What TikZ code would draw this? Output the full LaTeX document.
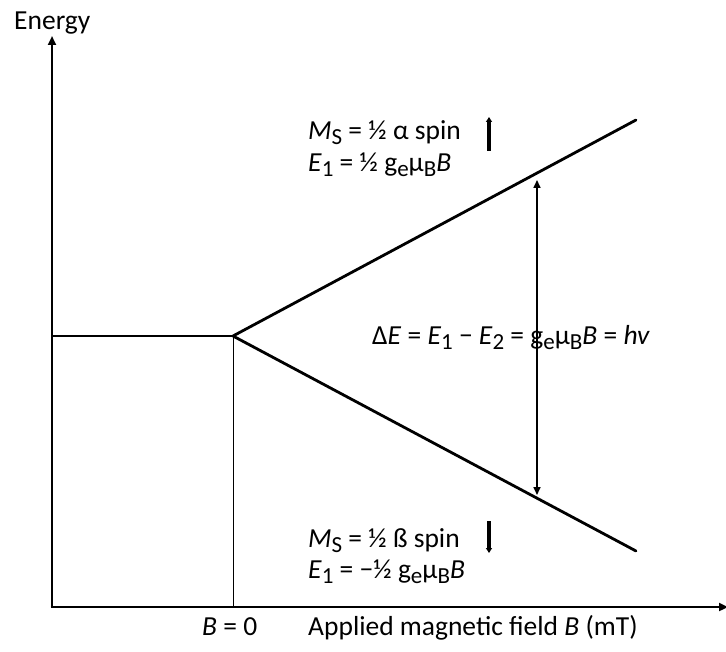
\documentclass[tikz,border=0pt]{standalone}
\usepackage{fontspec}
\setmainfont{Carlito}
\usetikzlibrary{arrows.meta}
\newcommand\subx[1]{\raisebox{-5pt}{\fontsize{23}{23}\selectfont #1}}
\begin{document}
\begin{tikzpicture}[x=1pt,y=-1pt,
  lbl/.style={inner sep=0pt,anchor=base west,font=\fontsize{27.5}{32}\selectfont},
  axis/.style={line width=2.8pt,-{Triangle[length=9pt,width=8pt]}},
  branch/.style={line width=2.8pt},
  spin/.style={line width=4pt,-{Triangle[length=5pt,width=6pt]}}]
\useasboundingbox (0,0) rectangle (726,652);
% key points
\coordinate (O) at (52,607);
\coordinate (ytop) at (52,36);
\coordinate (xend) at (728,607);
\coordinate (L) at (52,336);
\coordinate (S) at (233,336);
\coordinate (Sb) at (233,607);
\coordinate (U) at (636,120);
\coordinate (D) at (636,551);
\coordinate (Ta) at (537,180);
\coordinate (Tb) at (537,495);
\coordinate (ua) at (489,151);
\coordinate (ub) at (489,117);
\coordinate (da) at (489,521);
\coordinate (db) at (489,553);
% lines
\draw[line width=0.8pt] (S) -- (Sb);
\draw[axis] (O) -- (ytop);
\draw[axis] ([xshift=-1.4pt]O) -- (xend);
\draw[branch] (L) -- (S);
\draw[branch,line cap=round] (S) -- (U);
\draw[branch,line cap=round] (S) -- (D);
\draw[line width=1.6pt,{Triangle[length=8pt,width=7pt]}-{Triangle[length=8pt,width=7pt]}] (Ta) -- (Tb);
\draw[spin] (ua) -- (ub);
\draw[spin] (da) -- (db);
% texts
\node[lbl] (en) at (14,30) {Energy};
\node[lbl] (ms1) at (308,140) {\textit{M}\subx{S} = ½ α spin};
\node[lbl] (e1) at (308,172) {\textit{E}\subx{1} = ½ g\subx{e}μ\subx{B}\textit{B}};
\node[lbl] (de) at (372,345) {Δ\textit{E} = \textit{E}\subx{1} − \textit{E}\subx{2} = g\subx{e}μ\subx{B}\textit{B} = \textit{hv}};
\node[lbl] (ms2) at (308,547) {\textit{M}\subx{S} = ½ ß spin};
\node[lbl] (e2) at (308,578) {\textit{E}\subx{1} = −½ g\subx{e}μ\subx{B}\textit{B}};
\node[lbl] (b0) at (202,635) {\textit{B} = 0};
\node[lbl] (ax) at (308,635) {Applied magnetic field \textit{B} (mT)};
\end{tikzpicture}
\end{document}
